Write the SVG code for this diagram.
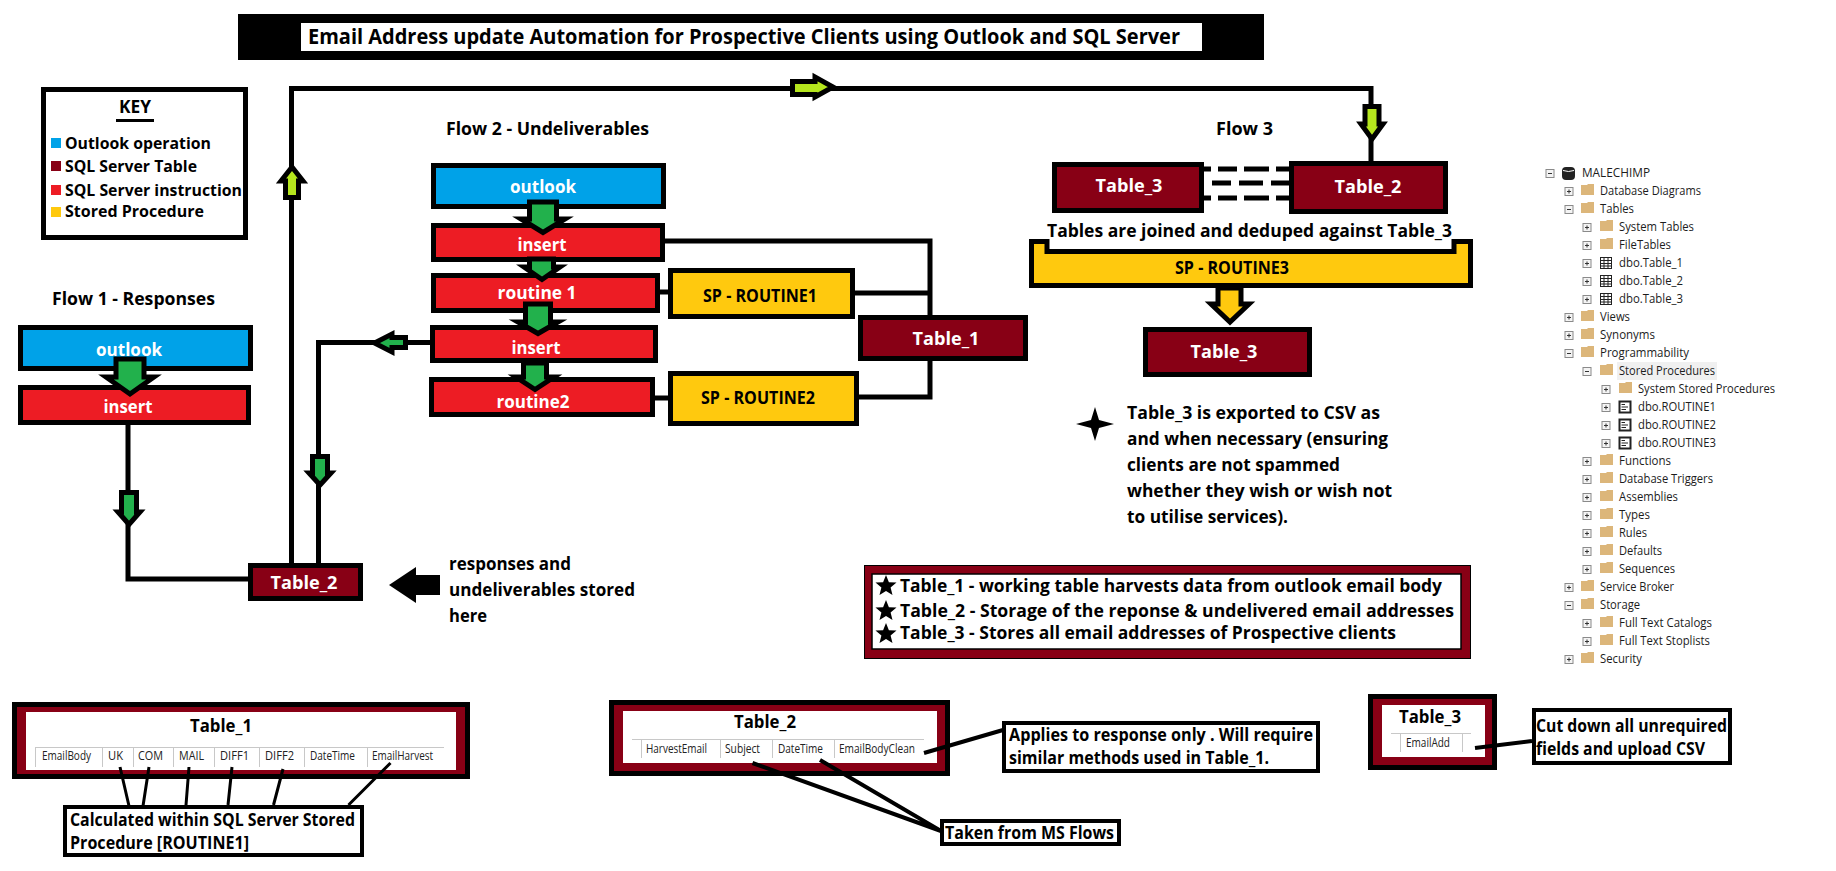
<svg xmlns="http://www.w3.org/2000/svg" xmlns:xlink="http://www.w3.org/1999/xlink" width="1836" height="871" viewBox="0 0 1836 871">
<style>
text{font-family:"Open Sans","Noto Sans","Liberation Sans",sans-serif;font-weight:700;fill:#000;font-size:17px}
.lbl{fill:#fff;text-anchor:middle;font-size:18px}
.dk{fill:#000;text-anchor:middle;font-size:17px}
.blue{fill:#00A2E8;stroke:#000;stroke-width:5}
.red{fill:#ED1C24;stroke:#000;stroke-width:5}
.tbl{fill:#880015;stroke:#000;stroke-width:5}
.sp{fill:#FFC90E;stroke:#000;stroke-width:5}
.note{fill:#fff;stroke:#000;stroke-width:4}
.inner{fill:#fff}
.hdr{stroke:#c8c8c8;stroke-width:1;fill:none}
.col{font-weight:400;font-size:12px;fill:#222}
.ttl{font-size:18px;text-anchor:middle}
.tree{font-weight:400;font-size:12px;fill:#1c1c1c}
.line{fill:none;stroke:#000;stroke-width:5}
.thin{fill:none;stroke:#000;stroke-width:3}
.dash{fill:none;stroke:#000;stroke-width:5}
.ag{fill:#22B14C;stroke:#000;stroke-width:5;stroke-miterlimit:8}
.al{fill:#B5E61D;stroke:#000;stroke-width:5;stroke-miterlimit:8}
.ay{fill:#FFC90E;stroke:#000;stroke-width:5;stroke-miterlimit:8}
</style>
<defs>
<g id="plus"><rect x="-4" y="-4" width="8" height="8" fill="#f4f4f4" stroke="#8a8a8a"/><path d="M-2 0H2M0-2V2" stroke="#333" fill="none"/></g>
<g id="minus"><rect x="-4" y="-4" width="8" height="8" fill="#f4f4f4" stroke="#8a8a8a"/><path d="M-2 0H2" stroke="#333" fill="none"/></g>
<path id="folder" d="M0 -5H6L7-6H13V5H0Z" fill="#DCB67A"/>
<g id="grid"><rect x="0.5" y="-5.500" width="11" height="11" fill="#fff" stroke="#222"/><path d="M0.5-2.500H11.500M0.5 0.5H11.500M0.5 3H11.500M4 -5.500V5.500M8 -5.500V5.500" stroke="#222" fill="none"/></g>
<g id="proc"><rect x="0.5" y="-5.500" width="11" height="11" fill="#fff" stroke="#222" stroke-width="2"/><path d="M2.500-2.500H6M2.500 0H9M2.500 2.500H7" stroke="#222" fill="none"/></g>
<polygon id="star" points="0,-11 2.900,-3.800 10.500,-3.400 4.600,1.500 6.500,9 0,5 -6.500,9 -4.600,1.500 -10.500,-3.400 -2.900,-3.800" fill="#000"/>
</defs>
<rect width="1836" height="871" fill="#fff"/>

<g id="title"><rect x="238" y="14" width="1026" height="46" fill="#000"/><rect x="301" y="23" width="901" height="28" fill="#fff"/><text x="308" y="44" style="font-size:21px" textLength="872" lengthAdjust="spacingAndGlyphs">Email Address update Automation for Prospective Clients using Outlook and SQL Server</text></g>

<g id="key">
<rect x="43.500" y="89.500" width="202" height="148" fill="#fff" stroke="#000" stroke-width="5"/>
<text x="135" y="113" class="dk" style="font-size:18px" textLength="32" lengthAdjust="spacingAndGlyphs">KEY</text>
<rect x="116" y="119" width="38" height="3" fill="#000"/>
<rect x="51" y="138" width="10" height="10" fill="#00A2E8"/><text x="65" y="149" style="font-size:15.500px" textLength="146" lengthAdjust="spacingAndGlyphs">Outlook operation</text>
<rect x="51" y="161" width="10" height="10" fill="#880015"/><text x="65" y="172" style="font-size:15.500px" textLength="132" lengthAdjust="spacingAndGlyphs">SQL Server Table</text>
<rect x="51" y="185" width="10" height="10" fill="#ED1C24"/><text x="65" y="196" style="font-size:15.500px" textLength="177" lengthAdjust="spacingAndGlyphs">SQL Server instruction</text>
<rect x="51" y="207" width="10" height="10" fill="#FFC90E"/><text x="65" y="217" style="font-size:15.500px" textLength="139" lengthAdjust="spacingAndGlyphs">Stored Procedure</text>
</g>

<g id="flow-headings">
<text x="52" y="305" textLength="163" lengthAdjust="spacingAndGlyphs">Flow 1 - Responses</text>
<text x="446" y="135" textLength="203" lengthAdjust="spacingAndGlyphs">Flow 2 - Undeliverables</text>
<text x="1216" y="135" textLength="57" lengthAdjust="spacingAndGlyphs">Flow 3</text>
</g>

<g id="f1-outlook"><rect class="blue" x="20.500" y="327.500" width="230" height="41"/><text class="lbl" x="129" y="356" textLength="66" lengthAdjust="spacingAndGlyphs">outlook</text></g>
<g id="f1-insert"><rect class="red" x="20.500" y="387.500" width="228" height="35"/><text class="lbl" x="128" y="413" textLength="49" lengthAdjust="spacingAndGlyphs">insert</text></g>
<g id="table2-main"><rect class="tbl" x="250.500" y="565.500" width="110" height="33"/><text class="lbl" x="304" y="589" textLength="67" lengthAdjust="spacingAndGlyphs">Table_2</text></g>

<g id="f2-outlook"><rect class="blue" x="433.500" y="165.500" width="230" height="41"/><text class="lbl" x="543" y="193" textLength="66" lengthAdjust="spacingAndGlyphs">outlook</text></g>
<g id="f2-insert1"><rect class="red" x="433.500" y="225.500" width="229" height="34"/><text class="lbl" x="542" y="251" textLength="49" lengthAdjust="spacingAndGlyphs">insert</text></g>
<g id="f2-routine1"><rect class="red" x="433.500" y="275.500" width="224" height="35"/><text class="lbl" x="537" y="299" textLength="79" lengthAdjust="spacingAndGlyphs">routine 1</text></g>
<g id="f2-insert2"><rect class="red" x="432.500" y="327.500" width="223" height="33"/><text class="lbl" x="536" y="354" textLength="49" lengthAdjust="spacingAndGlyphs">insert</text></g>
<g id="f2-routine2"><rect class="red" x="431.500" y="379.500" width="221" height="35"/><text class="lbl" x="533" y="408" textLength="73" lengthAdjust="spacingAndGlyphs">routine2</text></g>
<g id="sp1"><rect class="sp" x="670.500" y="270.500" width="182" height="46"/><text class="dk" x="760" y="302" textLength="114" lengthAdjust="spacingAndGlyphs">SP - ROUTINE1</text></g>
<g id="sp2"><rect class="sp" x="670.500" y="373.500" width="186" height="50"/><text class="dk" x="758" y="404" textLength="114" lengthAdjust="spacingAndGlyphs">SP - ROUTINE2</text></g>
<g id="table1-main"><rect class="tbl" x="860.500" y="317.500" width="165" height="41"/><text class="lbl" x="946" y="345" textLength="67" lengthAdjust="spacingAndGlyphs">Table_1</text></g>

<g id="f3-table3"><rect class="tbl" x="1054.500" y="164.500" width="147" height="46"/><text class="lbl" x="1129" y="192" textLength="67" lengthAdjust="spacingAndGlyphs">Table_3</text></g>
<g id="f3-table2"><rect class="tbl" x="1291.500" y="163.500" width="154" height="48"/><text class="lbl" x="1368" y="193" textLength="67" lengthAdjust="spacingAndGlyphs">Table_2</text></g>
<text x="1047" y="237" textLength="405" lengthAdjust="spacingAndGlyphs">Tables are joined and deduped against Table_3</text>
<g id="sp3"><polygon class="sp" points="1031.500,241.500 1047,241.500 1047,251.500 1454,251.500 1454,241.500 1470.500,241.500 1470.500,285.500 1031.500,285.500"/><text class="dk" x="1232" y="274" textLength="114" lengthAdjust="spacingAndGlyphs">SP - ROUTINE3</text></g>
<g id="f3-table3-result"><rect class="tbl" x="1145.500" y="329.500" width="164" height="45"/><text class="lbl" x="1224" y="358" textLength="67" lengthAdjust="spacingAndGlyphs">Table_3</text></g>

<g id="csv-note">
<polygon points="1095,407 1099,420 1114,424 1099,428 1095,441 1091,428 1076,424 1091,420" fill="#000"/>
<text x="1127" y="419" textLength="253" lengthAdjust="spacingAndGlyphs">Table_3 is exported to CSV as</text>
<text x="1127" y="445" textLength="261" lengthAdjust="spacingAndGlyphs">and when necessary (ensuring</text>
<text x="1127" y="471" textLength="213" lengthAdjust="spacingAndGlyphs">clients are not spammed</text>
<text x="1127" y="497" textLength="265" lengthAdjust="spacingAndGlyphs">whether they wish or wish not</text>
<text x="1127" y="523" textLength="161" lengthAdjust="spacingAndGlyphs">to utilise services).</text>
</g>

<g id="stored-note">
<text x="449" y="570" textLength="122" lengthAdjust="spacingAndGlyphs">responses and</text>
<text x="449" y="596" textLength="186" lengthAdjust="spacingAndGlyphs">undeliverables stored</text>
<text x="449" y="622" textLength="38" lengthAdjust="spacingAndGlyphs">here</text>
</g>

<g id="table-legend">
<rect x="864.500" y="565.500" width="606" height="93" fill="#880015" stroke="#000" stroke-width="1"/>
<rect x="872" y="574" width="589" height="75" fill="#fff" stroke="#000" stroke-width="1.500"/>
<use href="#star" x="886" y="586"/><use href="#star" x="886" y="611"/><use href="#star" x="886" y="634"/>
<text x="900" y="592" textLength="542" lengthAdjust="spacingAndGlyphs">Table_1 - working table harvests data from outlook email body</text>
<text x="900" y="617" textLength="554" lengthAdjust="spacingAndGlyphs">Table_2 - Storage of the reponse &amp; undelivered email addresses</text>
<text x="900" y="639" textLength="496" lengthAdjust="spacingAndGlyphs">Table_3 - Stores all email addresses of Prospective clients</text>
</g>

<g id="table1-shot">
<rect class="tbl" x="14.500" y="704.500" width="453" height="72"/><rect class="inner" x="26" y="712" width="430" height="58"/>
<text class="ttl" x="221" y="732" textLength="62" lengthAdjust="spacingAndGlyphs">Table_1</text>
<path class="hdr" d="M35 747.500H444M35.500 748V767M102.500 748V767M133.500 748V767M173.500 748V767M214.500 748V767M259.500 748V767M304.500 748V767M367.500 748V767"/>
<text class="col" x="42" y="760" textLength="49" lengthAdjust="spacingAndGlyphs">EmailBody</text>
<text class="col" x="108" y="760" textLength="15" lengthAdjust="spacingAndGlyphs">UK</text>
<text class="col" x="138" y="760" textLength="25" lengthAdjust="spacingAndGlyphs">COM</text>
<text class="col" x="179" y="760" textLength="25" lengthAdjust="spacingAndGlyphs">MAIL</text>
<text class="col" x="220" y="760" textLength="29" lengthAdjust="spacingAndGlyphs">DIFF1</text>
<text class="col" x="265" y="760" textLength="29" lengthAdjust="spacingAndGlyphs">DIFF2</text>
<text class="col" x="310" y="760" textLength="45" lengthAdjust="spacingAndGlyphs">DateTime</text>
<text class="col" x="372" y="760" textLength="61" lengthAdjust="spacingAndGlyphs">EmailHarvest</text>
</g>
<g id="table1-note"><rect class="note" x="65" y="807" width="297" height="48"/><text x="70" y="826" textLength="285" lengthAdjust="spacingAndGlyphs">Calculated within SQL Server Stored</text><text x="70" y="849" textLength="179" lengthAdjust="spacingAndGlyphs">Procedure [ROUTINE1]</text></g>

<g id="table2-shot">
<rect class="tbl" x="611.500" y="702.500" width="336" height="71"/><rect class="inner" x="623" y="711" width="314" height="52"/>
<text class="ttl" x="765" y="728" textLength="62" lengthAdjust="spacingAndGlyphs">Table_2</text>
<path class="hdr" d="M632 739.500H924M641.500 740V758M720.500 740V758M772.500 740V758M834.500 740V758"/>
<text class="col" x="646" y="753" textLength="61" lengthAdjust="spacingAndGlyphs">HarvestEmail</text>
<text class="col" x="725" y="753" textLength="35" lengthAdjust="spacingAndGlyphs">Subject</text>
<text class="col" x="778" y="753" textLength="45" lengthAdjust="spacingAndGlyphs">DateTime</text>
<text class="col" x="839" y="753" textLength="76" lengthAdjust="spacingAndGlyphs">EmailBodyClean</text>
</g>
<g id="table2-note"><rect class="note" x="1004" y="723" width="314" height="48"/><text x="1009" y="741" textLength="304" lengthAdjust="spacingAndGlyphs">Applies to response only . Will require</text><text x="1009" y="764" textLength="260" lengthAdjust="spacingAndGlyphs">similar methods used in Table_1.</text></g>
<g id="flows-note"><rect class="note" x="942" y="821" width="177" height="23"/><text x="945" y="839" textLength="169" lengthAdjust="spacingAndGlyphs">Taken from MS Flows</text></g>

<g id="table3-shot">
<rect class="tbl" x="1370.500" y="696.500" width="124" height="71"/><rect class="inner" x="1382" y="705" width="103" height="52"/>
<text class="ttl" x="1430" y="723" textLength="62" lengthAdjust="spacingAndGlyphs">Table_3</text>
<path class="hdr" d="M1391 733.500H1471M1400.500 734V752M1462.500 734V752"/>
<text class="col" x="1406" y="747" textLength="44" lengthAdjust="spacingAndGlyphs">EmailAdd</text>
</g>
<g id="table3-note"><rect class="note" x="1534" y="710" width="196" height="53"/><text x="1536" y="732" textLength="191" lengthAdjust="spacingAndGlyphs">Cut down all unrequired</text><text x="1536" y="755" textLength="169" lengthAdjust="spacingAndGlyphs">fields and upload CSV</text></g>

<g id="object-tree">
<rect x="1617" y="362" width="100" height="18" fill="#f0f0f0"/>
<use href="#minus" x="1550" y="173.500"/><rect x="1562" y="167" width="13" height="13" rx="4" fill="#222"/><path d="M1563 170.500Q1568.500 172.500 1574 170.500" stroke="#fff" fill="none"/>
<text class="tree" x="1582" y="177" textLength="68" lengthAdjust="spacingAndGlyphs">MALECHIMP</text>
<use href="#plus" x="1569" y="191.500"/><use href="#folder" x="1581" y="190"/><text class="tree" x="1600" y="195" textLength="101" lengthAdjust="spacingAndGlyphs">Database Diagrams</text>
<use href="#minus" x="1569" y="209.500"/><use href="#folder" x="1581" y="208"/><text class="tree" x="1600" y="213" textLength="34" lengthAdjust="spacingAndGlyphs">Tables</text>
<use href="#plus" x="1587" y="227.500"/><use href="#folder" x="1600" y="226"/><text class="tree" x="1619" y="231" textLength="75" lengthAdjust="spacingAndGlyphs">System Tables</text>
<use href="#plus" x="1587" y="245.500"/><use href="#folder" x="1600" y="244"/><text class="tree" x="1619" y="249" textLength="52" lengthAdjust="spacingAndGlyphs">FileTables</text>
<use href="#plus" x="1587" y="263.500"/><use href="#grid" x="1600" y="263"/><text class="tree" x="1619" y="267" textLength="64" lengthAdjust="spacingAndGlyphs">dbo.Table_1</text>
<use href="#plus" x="1587" y="281.500"/><use href="#grid" x="1600" y="281"/><text class="tree" x="1619" y="285" textLength="64" lengthAdjust="spacingAndGlyphs">dbo.Table_2</text>
<use href="#plus" x="1587" y="299.500"/><use href="#grid" x="1600" y="299"/><text class="tree" x="1619" y="303" textLength="64" lengthAdjust="spacingAndGlyphs">dbo.Table_3</text>
<use href="#plus" x="1569" y="317.500"/><use href="#folder" x="1581" y="316"/><text class="tree" x="1600" y="321" textLength="30" lengthAdjust="spacingAndGlyphs">Views</text>
<use href="#plus" x="1569" y="335.500"/><use href="#folder" x="1581" y="334"/><text class="tree" x="1600" y="339" textLength="55" lengthAdjust="spacingAndGlyphs">Synonyms</text>
<use href="#minus" x="1569" y="353.500"/><use href="#folder" x="1581" y="352"/><text class="tree" x="1600" y="357" textLength="89" lengthAdjust="spacingAndGlyphs">Programmability</text>
<use href="#minus" x="1587" y="371.500"/><use href="#folder" x="1600" y="370"/><text class="tree" x="1619" y="375" textLength="96" lengthAdjust="spacingAndGlyphs">Stored Procedures</text>
<use href="#plus" x="1606" y="389.500"/><use href="#folder" x="1619" y="388"/><text class="tree" x="1638" y="393" textLength="137" lengthAdjust="spacingAndGlyphs">System Stored Procedures</text>
<use href="#plus" x="1606" y="407.500"/><use href="#proc" x="1619" y="407"/><text class="tree" x="1638" y="411" textLength="78" lengthAdjust="spacingAndGlyphs">dbo.ROUTINE1</text>
<use href="#plus" x="1606" y="425.500"/><use href="#proc" x="1619" y="425"/><text class="tree" x="1638" y="429" textLength="78" lengthAdjust="spacingAndGlyphs">dbo.ROUTINE2</text>
<use href="#plus" x="1606" y="443.500"/><use href="#proc" x="1619" y="443"/><text class="tree" x="1638" y="447" textLength="78" lengthAdjust="spacingAndGlyphs">dbo.ROUTINE3</text>
<use href="#plus" x="1587" y="461.500"/><use href="#folder" x="1600" y="460"/><text class="tree" x="1619" y="465" textLength="52" lengthAdjust="spacingAndGlyphs">Functions</text>
<use href="#plus" x="1587" y="479.500"/><use href="#folder" x="1600" y="478"/><text class="tree" x="1619" y="483" textLength="94" lengthAdjust="spacingAndGlyphs">Database Triggers</text>
<use href="#plus" x="1587" y="497.500"/><use href="#folder" x="1600" y="496"/><text class="tree" x="1619" y="501" textLength="59" lengthAdjust="spacingAndGlyphs">Assemblies</text>
<use href="#plus" x="1587" y="515.500"/><use href="#folder" x="1600" y="514"/><text class="tree" x="1619" y="519" textLength="31" lengthAdjust="spacingAndGlyphs">Types</text>
<use href="#plus" x="1587" y="533.500"/><use href="#folder" x="1600" y="532"/><text class="tree" x="1619" y="537" textLength="28" lengthAdjust="spacingAndGlyphs">Rules</text>
<use href="#plus" x="1587" y="551.500"/><use href="#folder" x="1600" y="550"/><text class="tree" x="1619" y="555" textLength="43" lengthAdjust="spacingAndGlyphs">Defaults</text>
<use href="#plus" x="1587" y="569.500"/><use href="#folder" x="1600" y="568"/><text class="tree" x="1619" y="573" textLength="56" lengthAdjust="spacingAndGlyphs">Sequences</text>
<use href="#plus" x="1569" y="587.500"/><use href="#folder" x="1581" y="586"/><text class="tree" x="1600" y="591" textLength="74" lengthAdjust="spacingAndGlyphs">Service Broker</text>
<use href="#minus" x="1569" y="605.500"/><use href="#folder" x="1581" y="604"/><text class="tree" x="1600" y="609" textLength="40" lengthAdjust="spacingAndGlyphs">Storage</text>
<use href="#plus" x="1587" y="623.500"/><use href="#folder" x="1600" y="622"/><text class="tree" x="1619" y="627" textLength="93" lengthAdjust="spacingAndGlyphs">Full Text Catalogs</text>
<use href="#plus" x="1587" y="641.500"/><use href="#folder" x="1600" y="640"/><text class="tree" x="1619" y="645" textLength="91" lengthAdjust="spacingAndGlyphs">Full Text Stoplists</text>
<use href="#plus" x="1569" y="659.500"/><use href="#folder" x="1581" y="658"/><text class="tree" x="1600" y="663" textLength="42" lengthAdjust="spacingAndGlyphs">Security</text>
</g>

<g id="connectors">
<path class="line" d="M291.500 563V88.500H1371V162"/>
<path class="line" d="M128 425V579H248"/>
<path class="line" d="M430 342.500H318.500V563"/>
<path class="line" d="M665 241H930V315M930 361V397H859"/>
<path class="line" d="M855 293H930"/>
<path class="line" d="M660 292H668M655 398H668"/>
<path class="dash" stroke-dasharray="8 7 19 7 25 7 17 100" d="M1203 169H1293"/>
<path class="dash" stroke-dasharray="19 8 24 8 22 100" d="M1212 183H1293"/>
<path class="dash" stroke-dasharray="8 7 19 7 25 7 17 100" d="M1203 198H1293"/>
<path class="thin" d="M120 767L129 806M149 767L143 806M189 767L186 805M232 767L228 805M283 769L273.500 805M390.500 763L348.500 805"/>
<path class="line" style="stroke-width:4" d="M752.500 763L941 831M820 760L941 831M924 753L1003 730"/>
<path class="line" style="stroke-width:4" d="M1475 748L1532 741"/>
<polygon class="ag" points="116,359 144,359 144,377 154,377 130,394 106,377 116,377"/>
<polygon class="ag" points="529.500,202 556.500,202 556.500,219 565,219 543,232.500 521,219 529.500,219"/>
<polygon class="ag" points="529.500,259 553.500,259 553.500,267 560,267 542,279.500 524,267 529.500,267"/>
<polygon class="ag" points="525.500,304 550.500,304 550.500,322 558,322 538,333.500 518,322 525.500,322"/>
<polygon class="ag" points="523.500,363 546.500,363 546.500,377 554,377 535,389.500 516,377 523.500,377"/>
<polygon class="ag" points="121.500,492.500 136.500,492.500 136.500,512 140,512 129,524.500 118,512 121.500,512"/>
<polygon class="ag" points="312.500,456.500 327.500,456.500 327.500,473 331,473 320,485 309,473 312.500,473"/>
<polygon class="ag" points="405.500,337.500 405.500,347.500 392,347.500 392,352 374.500,343 392,334 392,337.500"/>
<polygon class="al" points="285.500,197.500 298.500,197.500 298.500,181 303,181 292,167 281,181 285.500,181"/>
<polygon class="al" points="792.500,81.500 815,81.500 815,77 833,87 815,97 815,94.500 792.500,94.500"/>
<polygon class="al" points="1365,106.500 1379,106.500 1379,124 1383,124 1372,139 1361,124 1365,124"/>
<polygon class="ay" points="1218,288 1241,288 1241,304 1249,304 1230,322 1211,304 1218,304"/>
<polygon fill="#000" points="440,575 440,595 416,595 416,603 389,585 416,567 416,575"/>
</g>
</svg>
